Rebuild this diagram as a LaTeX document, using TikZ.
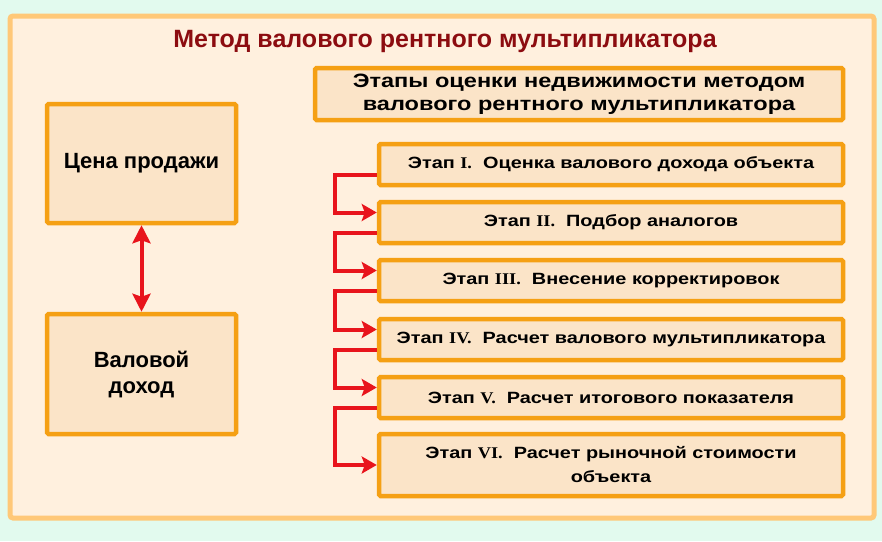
\documentclass[tikz,border=0pt]{standalone}
\usepackage{fontspec}
\setmainfont{Liberation Sans}
\newfontfamily\widefont[FakeStretch=1.22]{Liberation Sans}
\newfontfamily\numfont[FakeStretch=1.12]{Liberation Serif}
\usetikzlibrary{arrows.meta}

\definecolor{bgfill}{RGB}{226,250,238}
\definecolor{panelfill}{RGB}{255,240,222}
\definecolor{panelline}{RGB}{255,200,120}
\definecolor{boxfill}{RGB}{251,228,200}
\definecolor{boxline}{RGB}{245,160,20}
\definecolor{titlered}{RGB}{140,12,16}
\definecolor{arrowred}{RGB}{232,20,28}

\newcommand*{\stage}[1]{{\numfont\bfseries #1}}

\begin{document}
\begin{tikzpicture}
[
	x=1pt, y=-1pt,
	box/.style={draw=boxline,line width=4.5pt,fill=boxfill,rounded corners=1.5pt,
		align=center,inner sep=0pt,font=\bfseries\fontsize{22}{26}\selectfont},
	stagebox/.style={box,minimum width=464pt,minimum height=41pt,
		font=\widefont\bfseries\fontsize{16.3}{24}\selectfont},
	flow/.style={arrowred,line width=4pt,-{Stealth[length=15pt,width=17pt,inset=3pt]}},
	both/.style={arrowred,line width=4pt,{Stealth[length=18pt,width=18pt,inset=3pt]}-{Stealth[length=18pt,width=18pt,inset=3pt]}}
]

	% background and panel
	\useasboundingbox (0,0) rectangle (882,541);
	\fill[bgfill] (0,0) rectangle (882,541);
	\draw[panelline,line width=5pt,fill=panelfill,rounded corners=3pt] (10,16) rectangle (874,518);

	\node[titlered,font=\bfseries\fontsize{25}{28}\selectfont] (title) at (445,41)
		{Метод валового рентного мультипликатора};

	% left column
	\node[box,minimum width=189pt,minimum height=119pt] (price) at (141.5,163.5) {Цена продажи};
	\node[box,minimum width=189pt,minimum height=120pt] (income) at (141.5,374) {Валовой\\доход};
	\draw[both] (price) -- (income);

	% stages
	\node[box,minimum width=528pt,minimum height=52pt,font=\widefont\bfseries\fontsize{19.3}{23}\selectfont] (head) at (579,94)
		{Этапы оценки недвижимости методом\\валового рентного мультипликатора};

	\node[stagebox] (s1) at (611,164.5) {Этап \stage{I.}\ \ Оценка валового дохода объекта};
	\node[stagebox] (s2) at (611,222.5) {Этап \stage{II.}\ \ Подбор аналогов};
	\node[stagebox] (s3) at (611,280.5) {Этап \stage{III.}\ \ Внесение корректировок};
	\node[stagebox] (s4) at (611,339.5) {Этап \stage{IV.}\ \ Расчет валового мультипликатора};
	\node[stagebox] (s5) at (611,397.5) {Этап \stage{V.}\ \ Расчет итогового показателя};
	\node[stagebox,minimum height=62pt] (s6) at (611,465) {Этап \stage{VI.}\ \ Расчет рыночной стоимости\\объекта};

	\draw[flow] ([yshift=-10pt]s1.west) -- ++(-42,0) |- ([yshift=10pt]s2.west);
	\draw[flow] ([yshift=-10pt]s2.west) -- ++(-42,0) |- ([yshift=10pt]s3.west);
	\draw[flow] ([yshift=-10pt]s3.west) -- ++(-42,0) |- ([yshift=10pt]s4.west);
	\draw[flow] ([yshift=-10pt]s4.west) -- ++(-42,0) |- ([yshift=10pt]s5.west);
	\draw[flow] ([yshift=-10pt]s5.west) -- ++(-42,0) |- (s6.west);

\end{tikzpicture}
\end{document}
